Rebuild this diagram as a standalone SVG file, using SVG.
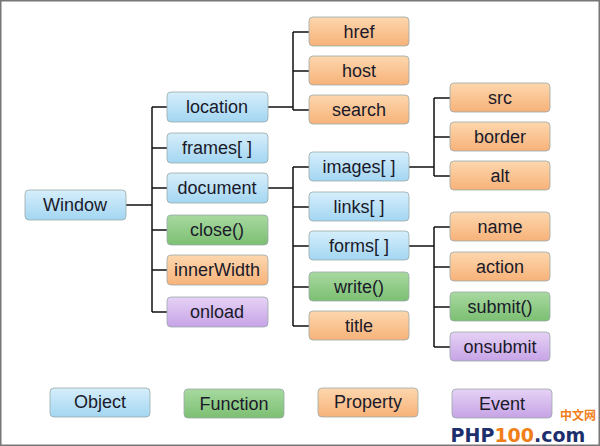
<svg xmlns="http://www.w3.org/2000/svg" width="600" height="446" viewBox="0 0 600 446">
<defs>
<linearGradient id="gb" x1="0" y1="0" x2="0" y2="1"><stop offset="0" stop-color="#d6eefb"/><stop offset="1" stop-color="#a3d6f2"/></linearGradient>
<linearGradient id="gg" x1="0" y1="0" x2="0" y2="1"><stop offset="0" stop-color="#a8d9a0"/><stop offset="1" stop-color="#7cbf72"/></linearGradient>
<linearGradient id="go" x1="0" y1="0" x2="0" y2="1"><stop offset="0" stop-color="#fdd7ae"/><stop offset="1" stop-color="#f7b279"/></linearGradient>
<linearGradient id="gp" x1="0" y1="0" x2="0" y2="1"><stop offset="0" stop-color="#e6d2f5"/><stop offset="1" stop-color="#c6a3e6"/></linearGradient>
</defs>
<style>
rect.n{stroke:#9aa;stroke-width:0.8;}
.b{fill:url(#gb)}.g{fill:url(#gg)}.o{fill:url(#go)}.p{fill:url(#gp)}
text{font-family:"Liberation Sans",Arial,sans-serif;font-size:18px;fill:#1a1a2a;text-anchor:middle;dominant-baseline:central}
#conn path{fill:none;stroke:#111;stroke-width:1.5}
</style>
<rect x="0" y="0" width="600" height="446" fill="#fff"/>
<rect x="0.75" y="0.75" width="598.5" height="444.5" fill="none" stroke="#777" stroke-width="1.5"/>
<g id="conn">
<path d="M126 205H152M152 107V312M152 107H167M152 148H167M152 188H167M152 230H167M152 270H167M152 312H167"/>
<path d="M268 107H293M293 32V110M293 32H309M293 71H309M293 110H309"/>
<path d="M268 188H293M293 167V326M293 167H309M293 207H309M293 246H309M293 287H309M293 326H309"/>
<path d="M409 167H434M434 98V176M434 98H450M434 137H450M434 176H450"/>
<path d="M409 246H434M434 227V347M434 227H450M434 267H450M434 307H450M434 347H450"/>
</g>
<g id="window"><rect class="n b" x="25" y="190" width="101" height="30" rx="4"/><text x="75" y="205">Window</text></g>
<g id="location"><rect class="n b" x="167" y="92" width="101" height="30" rx="4"/><text x="217" y="107">location</text></g>
<g id="frames"><rect class="n b" x="167" y="133" width="101" height="30" rx="4"/><text x="217" y="148">frames[ ]</text></g>
<g id="document"><rect class="n b" x="167" y="173" width="101" height="30" rx="4"/><text x="217" y="188">document</text></g>
<g id="close"><rect class="n g" x="167" y="215" width="101" height="30" rx="4"/><text x="217" y="230">close()</text></g>
<g id="innerWidth"><rect class="n o" x="167" y="255" width="101" height="30" rx="4"/><text x="217" y="270">innerWidth</text></g>
<g id="onload"><rect class="n p" x="167" y="297" width="101" height="30" rx="4"/><text x="217" y="312">onload</text></g>
<g id="href"><rect class="n o" x="309" y="17" width="100" height="29" rx="4"/><text x="359" y="32">href</text></g>
<g id="host"><rect class="n o" x="309" y="56" width="100" height="29" rx="4"/><text x="359" y="71">host</text></g>
<g id="search"><rect class="n o" x="309" y="95" width="100" height="29" rx="4"/><text x="359" y="110">search</text></g>
<g id="images"><rect class="n b" x="309" y="152" width="100" height="29" rx="4"/><text x="359" y="167">images[ ]</text></g>
<g id="links"><rect class="n b" x="309" y="192" width="100" height="29" rx="4"/><text x="359" y="207">links[ ]</text></g>
<g id="forms"><rect class="n b" x="309" y="231" width="100" height="29" rx="4"/><text x="359" y="246">forms[ ]</text></g>
<g id="write"><rect class="n g" x="309" y="272" width="100" height="29" rx="4"/><text x="359" y="287">write()</text></g>
<g id="title"><rect class="n o" x="309" y="311" width="100" height="29" rx="4"/><text x="359" y="326">title</text></g>
<g id="src"><rect class="n o" x="450" y="83" width="100" height="29" rx="4"/><text x="500" y="98">src</text></g>
<g id="border"><rect class="n o" x="450" y="122" width="100" height="29" rx="4"/><text x="500" y="137">border</text></g>
<g id="alt"><rect class="n o" x="450" y="161" width="100" height="29" rx="4"/><text x="500" y="176">alt</text></g>
<g id="name"><rect class="n o" x="450" y="212" width="100" height="29" rx="4"/><text x="500" y="227">name</text></g>
<g id="action"><rect class="n o" x="450" y="252" width="100" height="29" rx="4"/><text x="500" y="267">action</text></g>
<g id="submit"><rect class="n g" x="450" y="292" width="100" height="29" rx="4"/><text x="500" y="307">submit()</text></g>
<g id="onsubmit"><rect class="n p" x="450" y="332" width="100" height="29" rx="4"/><text x="500" y="347">onsubmit</text></g>
<g id="legend-object"><rect class="n b" x="50" y="388" width="100" height="29" rx="4"/><text x="100" y="402">Object</text></g>
<g id="legend-function"><rect class="n g" x="184" y="389" width="100" height="29" rx="4"/><text x="234" y="404">Function</text></g>
<g id="legend-property"><rect class="n o" x="318" y="388" width="100" height="29" rx="4"/><text x="368" y="402">Property</text></g>
<g id="legend-event"><rect class="n p" x="452" y="389" width="100" height="29" rx="4"/><text x="502" y="404">Event</text></g>
<text x="578" y="414" style="font-size:12px;font-weight:bold;fill:#f07f1a;font-family:'Noto Sans CJK SC',sans-serif">中文网</text>
<text x="518" y="435" style="font-size:19px;font-weight:bold;fill:#1e2f6e;font-family:'DejaVu Sans',sans-serif">PHP<tspan fill="#f07f1a">100</tspan>.com</text>
</svg>
